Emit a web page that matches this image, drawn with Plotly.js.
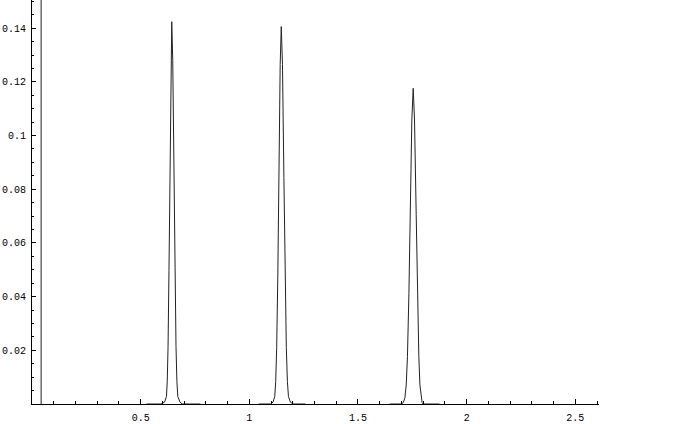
<!DOCTYPE html>
<html>
<head>
<meta charset="utf-8">
<script src="https://cdn.plot.ly/plotly-3.0.1.min.js"></script>
<style>html,body{margin:0;padding:0;background:#fff;}#chart{width:686px;height:424px;}</style>
</head>
<body>
<div id="chart"></div>
<script>
// Peak 1
var peak1X = [0.5265, 0.594, 0.610, 0.6187, 0.6224, 0.626, 0.6303, 0.6341, 0.639, 0.643, 0.6476, 0.6532, 0.6576, 0.6626, 0.6667, 0.671, 0.681, 0.691, 0.775];
var peak1Y = [0, 0, 0.0007, 0.0028, 0.0085, 0.0214, 0.0498, 0.0854, 0.128, 0.1424, 0.128, 0.0854, 0.0498, 0.0214, 0.0085, 0.0028, 0.0007, 0, 0];
// Peak 2
var peak2X = [1.043, 1.098, 1.109, 1.117, 1.1214, 1.1259, 1.1313, 1.136, 1.142, 1.147, 1.1525, 1.1591, 1.1643, 1.1702, 1.1752, 1.180, 1.189, 1.200, 1.258];
var peak2Y = [0, 0, 0.0007, 0.0028, 0.0084, 0.0211, 0.0492, 0.0844, 0.1265, 0.1406, 0.1265, 0.0844, 0.0492, 0.0211, 0.0084, 0.0028, 0.0007, 0, 0];
// Peak 3
var peak3X = [1.646, 1.699, 1.709, 1.716, 1.722, 1.7276, 1.7343, 1.7402, 1.7478, 1.754, 1.7602, 1.7678, 1.7737, 1.780, 1.785, 1.790, 1.795, 1.800, 1.875];
var peak3Y = [0, 0, 0.0006, 0.0024, 0.0071, 0.0176, 0.0412, 0.0706, 0.1058, 0.1176, 0.1058, 0.0706, 0.0412, 0.0176, 0.0071, 0.0024, 0.0006, 0, 0];
// Vertical line near the origin
var vlineX = [0.042, 0.042];
var vlineY = [0, 0.1505];
// Tick labels
var xTickVals = [0.5, 1, 1.5, 2, 2.5];
var xTickText = ["0.5", "1", "1.5", "2", "2.5"];
var yTickVals = [0.02, 0.04, 0.06, 0.08, 0.1, 0.12, 0.14];
var yTickText = ["0.02", "0.04", "0.06", "0.08", "0.1", "0.12", "0.14"];

var lineStyle = {color: '#222', width: 1};
var traces = [
  {x: vlineX, y: vlineY, mode: 'lines', line: lineStyle, hoverinfo: 'skip'},
  {x: peak1X, y: peak1Y, mode: 'lines', line: lineStyle},
  {x: peak2X, y: peak2Y, mode: 'lines', line: lineStyle},
  {x: peak3X, y: peak3Y, mode: 'lines', line: lineStyle}
];
var tickFont = {family: 'Liberation Mono, DejaVu Sans Mono, monospace', size: 10, color: '#000'};
var layout = {
  width: 686, height: 424,
  margin: {l: 32, r: 87, t: 0, b: 20, pad: 0},
  paper_bgcolor: '#fff', plot_bgcolor: '#fff',
  showlegend: false,
  xaxis: {
    range: [0, 2.609], showgrid: false, zeroline: false,
    showline: true, linecolor: '#000', linewidth: 1,
    ticks: 'inside', ticklen: 5, tickwidth: 1, tickcolor: '#000',
    tickvals: xTickVals, ticktext: xTickText, tickfont: tickFont,
    ticklabelstandoff: 4,
    minor: {dtick: 0.1, tick0: 0, ticks: 'inside', ticklen: 3, tickwidth: 1, tickcolor: '#000', showgrid: false}
  },
  yaxis: {
    range: [0, 0.1505], showgrid: false, zeroline: false,
    showline: true, linecolor: '#000', linewidth: 1,
    ticks: 'inside', ticklen: 4, tickwidth: 1, tickcolor: '#000',
    tickvals: yTickVals, ticktext: yTickText, tickfont: tickFont,
    ticklabelstandoff: 3,
    minor: {dtick: 0.005, tick0: 0, ticks: 'inside', ticklen: 2, tickwidth: 1, tickcolor: '#000', showgrid: false}
  }
};
Plotly.newPlot('chart', traces, layout, {staticPlot: true, displayModeBar: false});
</script>
</body>
</html>
